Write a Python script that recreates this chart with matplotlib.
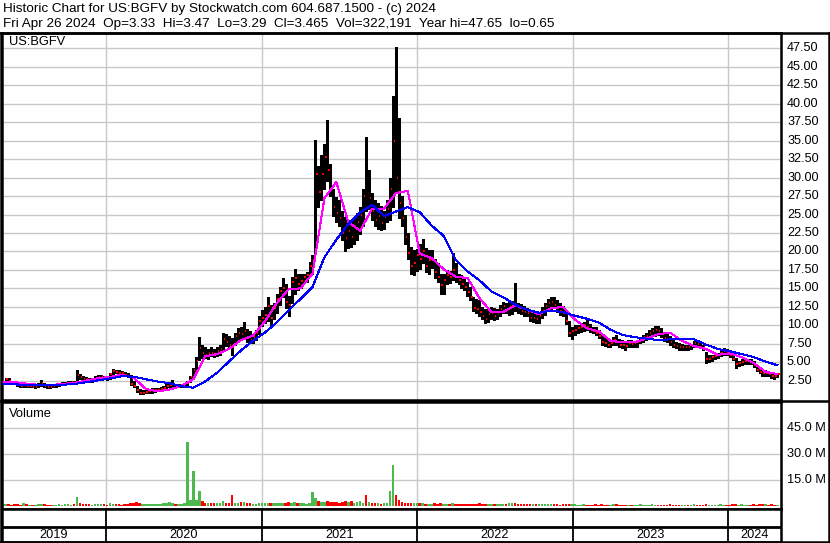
import pandas as pd
import matplotlib
matplotlib.use("Agg")
import matplotlib.pyplot as plt
import matplotlib.dates as mdates
import matplotlib.transforms as mtrans

plt.rcParams['font.family'] = ['Liberation Sans', 'DejaVu Sans']

# weekly bars, Fridays, May 2019 -> Apr 26 2024
weeks = pd.date_range('2019-05-03', '2024-04-26', freq='W-FRI')

high = [2.5, 2.9, 2.9, 2.5, 2.4, 2.2, 2.2, 2.1, 2.1, 2.1, 2.0, 2.0, 2.2,
        2.6, 2.2, 2.0, 2.0, 2.0, 2.1, 2.2, 2.3, 2.3, 2.4, 2.4, 2.4, 3.95,
        3.4, 3.2, 3.0, 2.9, 2.9, 3.2, 3.3, 3.3, 3.2, 3.1, 3.6, 4.05, 4.0,
        3.9, 3.8, 3.7, 3.6, 3.3, 2.4, 1.8, 1.4, 1.2, 1.3, 1.4, 1.5, 1.5,
        1.5, 1.6, 1.8, 2.0, 2.2, 2.6, 2.1, 2.1, 2.1, 2.2, 2.4, 3.2, 4.2,
        5.7, 8.46, 7.4, 7.0, 6.8, 7.0, 6.8, 7.0, 7.3, 8.9, 8.8, 8.6, 8.3,
        9.0, 9.6, 9.8, 10.5, 9.5, 9.2, 8.8, 9.4, 11.2, 12.1, 12.5, 13.9, 12.8,
        13.0, 14.2, 15.2, 16.4, 15.6, 14.0, 16.5, 17.6, 17.0, 16.9, 17.0, 17.2, 18.6,
        19.5, 35.1, 31.5, 33.0, 34.5, 37.8, 31.8, 28.5, 27.4, 27.0, 25.5, 24.7, 24.3,
        24.0, 24.5, 25.2, 26.0, 28.5, 35.5, 31.0, 27.9, 27.0, 26.5, 26.1, 25.5, 27.0,
        30.0, 41.0, 47.65, 38.0, 27.5, 25.0, 22.5, 20.6, 20.2, 20.3, 21.0, 21.7, 20.5,
        20.2, 20.2, 19.0, 18.5, 17.0, 17.0, 17.5, 17.4, 19.8, 18.5, 17.0, 16.8, 16.6,
        15.8, 15.2, 13.9, 13.6, 13.4, 12.5, 12.2, 12.4, 12.5, 12.3, 12.2, 12.8, 13.2,
        13.0, 13.2, 13.3, 15.7, 13.0, 12.9, 12.6, 12.4, 12.1, 11.8, 11.6, 11.8, 12.5,
        13.0, 13.6, 13.9, 13.8, 13.4, 13.0, 12.6, 12.1, 10.6, 9.8, 10.0, 10.0, 10.3,
        10.5, 10.9, 10.2, 9.8, 9.8, 9.4, 8.7, 8.4, 8.0, 8.0, 8.4, 8.7, 8.2,
        8.0, 7.8, 8.0, 8.0, 7.9, 8.0, 8.4, 8.7, 9.0, 9.4, 9.6, 9.9, 9.9,
        9.6, 9.1, 8.8, 8.5, 8.2, 7.8, 7.6, 7.5, 7.4, 7.4, 7.5, 7.9, 8.0,
        7.6, 7.4, 6.4, 6.0, 6.0, 6.1, 6.3, 6.6, 6.9, 6.8, 6.6, 6.0, 5.6,
        5.2, 5.4, 5.5, 5.5, 5.4, 5.2, 4.6, 4.2, 3.9, 3.9, 3.8, 3.6, 3.5,
        3.6]

low = [2.1, 2.2, 2.3, 2.1, 2.0, 1.8, 1.7, 1.7, 1.7, 1.6, 1.6, 1.5, 1.6,
       1.8, 1.6, 1.5, 1.5, 1.6, 1.7, 1.8, 1.9, 1.9, 2.0, 2.0, 2.0, 2.2,
       2.7, 2.6, 2.5, 2.3, 2.3, 2.6, 2.7, 2.8, 2.7, 2.6, 2.8, 3.4, 3.5,
       3.4, 3.3, 3.1, 3.0, 1.9, 1.6, 1.0, 0.65, 0.7, 0.8, 0.9, 0.9, 1.0,
       1.1, 1.1, 1.3, 1.4, 1.6, 1.7, 1.6, 1.6, 1.6, 1.7, 1.9, 2.3, 3.0,
       3.8, 5.3, 5.6, 5.6, 5.5, 5.8, 5.7, 5.9, 6.0, 6.6, 7.2, 6.9, 6.0,
       7.3, 8.0, 8.2, 8.4, 7.8, 7.6, 7.6, 8.0, 8.8, 9.9, 10.3, 10.6, 10.0,
       10.8, 11.6, 12.8, 13.9, 12.4, 11.2, 13.0, 14.3, 14.8, 15.0, 15.7, 15.8, 16.8,
       17.0, 19.7, 26.0, 27.0, 28.5, 29.5, 27.5, 24.8, 24.0, 23.4, 21.5, 20.0, 20.4,
       20.6, 21.0, 21.5, 22.3, 23.5, 25.5, 25.8, 24.3, 23.4, 23.0, 22.9, 23.0, 24.0,
       24.3, 26.0, 28.0, 24.5, 23.4, 21.0, 19.0, 17.0, 16.8, 17.4, 17.6, 18.5, 17.2,
       17.0, 17.8, 16.4, 15.8, 14.3, 14.2, 15.6, 15.7, 16.2, 15.8, 15.6, 15.0, 14.8,
       14.0, 13.4, 12.0, 11.6, 11.2, 10.8, 10.3, 10.5, 10.8, 10.7, 10.9, 11.2, 11.6,
       11.6, 11.4, 11.5, 12.0, 11.6, 11.5, 11.2, 11.2, 10.6, 10.4, 10.3, 10.3, 11.0,
       11.4, 12.0, 12.1, 12.3, 11.8, 11.4, 11.2, 10.2, 8.6, 8.2, 8.7, 8.9, 9.1,
       9.2, 9.3, 9.1, 8.9, 8.7, 8.3, 7.4, 7.2, 7.1, 7.1, 7.3, 7.4, 7.0,
       6.9, 6.7, 7.0, 7.1, 7.1, 7.1, 7.6, 7.8, 8.0, 8.1, 8.5, 8.6, 8.7,
       8.4, 7.9, 7.8, 7.4, 7.1, 6.9, 6.7, 6.7, 6.7, 6.7, 6.8, 7.0, 7.1,
       6.9, 6.7, 4.9, 5.1, 5.2, 5.4, 5.6, 5.8, 6.0, 6.0, 5.7, 5.3, 4.2,
       4.5, 4.6, 4.7, 4.8, 4.7, 4.4, 3.8, 3.5, 3.2, 3.1, 3.1, 2.9, 2.8,
       3.0]

close = [2.3, 2.7, 2.5, 2.2, 2.1, 1.9, 1.8, 1.9, 1.8, 1.8, 1.7, 1.7, 1.9,
         2.2, 1.8, 1.7, 1.6, 1.8, 1.9, 2.0, 2.1, 2.2, 2.2, 2.3, 2.2, 3.3,
         3.0, 2.8, 2.7, 2.6, 2.7, 2.9, 3.0, 3.1, 3.0, 2.9, 3.4, 3.8, 3.7,
         3.6, 3.5, 3.3, 3.2, 2.1, 1.8, 1.2, 0.8, 0.9, 1.0, 1.1, 1.2, 1.3,
         1.3, 1.4, 1.5, 1.8, 1.9, 2.0, 1.8, 1.8, 1.9, 2.0, 2.2, 3.0, 3.9,
         5.2, 6.9, 6.2, 6.0, 6.3, 6.2, 6.0, 6.5, 6.8, 8.2, 7.8, 7.4, 7.0,
         8.6, 9.0, 8.8, 9.2, 8.3, 8.0, 8.4, 9.0, 10.6, 11.0, 11.4, 12.6, 11.0,
         12.3, 13.5, 14.6, 15.0, 13.2, 12.8, 15.8, 16.4, 15.6, 16.0, 16.6, 16.8, 18.0,
         18.9, 30.5, 28.0, 30.5, 32.8, 31.0, 28.5, 26.0, 25.2, 24.5, 22.5, 21.8, 22.8,
         22.0, 23.5, 24.0, 25.0, 27.5, 26.0, 27.2, 25.5, 24.2, 24.8, 23.8, 24.6, 25.8,
         28.5, 35.0, 30.0, 26.5, 24.5, 22.0, 19.8, 18.0, 18.5, 19.5, 19.0, 20.0, 18.0,
         18.8, 19.0, 17.2, 16.5, 15.5, 16.2, 16.8, 16.5, 17.5, 16.6, 16.2, 15.6, 15.2,
         14.5, 13.8, 12.4, 12.2, 11.8, 11.2, 10.8, 11.5, 11.6, 11.2, 11.6, 12.2, 12.6,
         12.2, 12.5, 12.8, 12.6, 12.4, 12.0, 11.8, 11.6, 11.0, 11.0, 10.8, 11.3, 12.0,
         12.6, 13.0, 13.2, 12.8, 12.4, 12.0, 11.6, 10.6, 9.0, 9.2, 9.4, 9.6, 9.8,
         10.0, 9.8, 9.5, 9.2, 9.0, 8.6, 7.8, 7.6, 7.4, 7.6, 8.0, 7.8, 7.4,
         7.3, 7.2, 7.6, 7.5, 7.6, 7.8, 8.2, 8.4, 8.6, 9.0, 9.2, 9.4, 9.2,
         8.8, 8.3, 8.1, 7.8, 7.4, 7.2, 7.0, 7.0, 7.1, 7.0, 7.2, 7.6, 7.5,
         7.1, 7.0, 5.5, 5.5, 5.7, 5.8, 6.0, 6.3, 6.5, 6.4, 6.0, 5.5, 4.8,
         4.9, 5.1, 5.2, 5.2, 5.0, 4.6, 4.0, 3.7, 3.5, 3.6, 3.4, 3.2, 3.1,
         3.465]

# biggest daily volume of each week, millions
volume = [1.0, 0.9, 0.7, 0.6, 0.8, 0.7, 0.6, 1.6, 0.8, 0.6, 0.5, 0.6, 0.8,
          1.0, 0.7, 0.6, 0.5, 0.6, 0.6, 0.7, 0.6, 0.8, 0.7, 0.6, 0.7, 4.8,
          1.5, 0.9, 0.8, 0.7, 0.6, 0.8, 0.9, 0.8, 0.7, 0.6, 1.2, 1.0, 0.8,
          0.7, 0.6, 0.7, 0.8, 1.2, 1.4, 2.1, 1.3, 1.0, 0.9, 1.0, 0.9, 0.8,
          0.9, 1.1, 1.6, 1.2, 2.0, 1.4, 1.0, 0.9, 1.0, 1.2, 37.2, 3.0, 19.9,
          3.5, 8.3, 2.4, 1.5, 1.3, 1.4, 1.2, 1.6, 1.3, 2.9, 1.5, 1.3, 6.4,
          1.6, 1.4, 2.3, 1.8, 1.5, 1.2, 1.0, 1.1, 1.3, 1.5, 1.2, 1.6, 1.4,
          1.2, 1.3, 1.6, 1.5, 1.4, 1.8, 1.5, 2.0, 1.4, 1.2, 1.3, 1.1, 1.5,
          7.7, 4.6, 2.5, 2.0, 2.2, 2.6, 2.3, 1.8, 2.0, 1.6, 2.2, 2.4, 1.8,
          2.9, 1.6, 1.8, 2.4, 1.5, 6.4, 2.0, 1.3, 1.2, 1.5, 1.1, 1.4, 1.6,
          8.3, 23.7, 6.0, 3.5, 1.8, 1.5, 1.3, 1.4, 1.2, 1.5, 1.6, 1.2, 1.0,
          1.1, 0.9, 1.2, 1.0, 1.4, 0.9, 1.0, 1.1, 1.3, 1.0, 0.9, 0.8, 1.0,
          0.9, 1.1, 1.0, 0.8, 1.2, 0.9, 1.0, 0.8, 0.9, 1.0, 0.8, 0.7, 0.9,
          0.8, 1.2, 1.3, 1.5, 0.9, 0.8, 0.7, 0.8, 0.9, 0.7, 0.8, 0.7, 0.8,
          0.9, 0.8, 1.0, 0.8, 0.7, 0.6, 0.8, 0.9, 1.1, 0.8, 0.7, 0.6, 0.6,
          0.7, 0.6, 0.5, 0.6, 0.7, 0.6, 0.8, 0.6, 0.5, 0.6, 0.7, 1.1, 0.6,
          0.6, 0.5, 0.6, 0.6, 0.5, 0.6, 0.7, 0.6, 0.5, 0.6, 0.7, 0.6, 0.6,
          0.5, 0.6, 0.5, 0.7, 0.6, 0.5, 0.5, 0.6, 0.6, 0.5, 0.6, 0.7, 0.6,
          0.5, 0.6, 0.9, 0.6, 0.5, 0.6, 0.5, 0.7, 0.6, 0.5, 0.6, 0.7, 0.9,
          0.6, 0.7, 0.6, 0.5, 0.6, 0.7, 0.6, 0.8, 1.1, 0.7, 0.6, 0.7, 0.6,
          0.5]

# moving averages read every 4th week
ma_fast = [2.3, 2.3, 2.1, 1.95, 1.9, 2.05, 2.2, 2.5, 2.85, 3.0,
           3.3, 2.9, 1.4, 1.05, 1.3, 1.8, 2.7, 5.8, 6.1, 6.8,
           8.0, 8.6, 10.5, 13.0, 14.9, 15.0, 17.0, 27.2, 29.4, 24.0,
           22.8, 25.8, 25.8, 27.9, 28.2, 19.7, 19.1, 17.6, 16.6, 16.4,
           13.7, 11.8, 11.8, 12.7, 12.1, 11.5, 12.3, 12.5, 10.8, 9.6,
           9.2, 7.9, 7.7, 7.7, 8.2, 8.8, 9.0, 7.9, 7.2, 6.8,
           6.0, 6.2, 5.7, 4.9, 3.7, 3.4]
ma_slow = [2.0, 2.0, 1.95, 1.9, 1.9, 1.95, 2.05, 2.3, 2.55, 2.8,
           3.1, 3.05, 2.7, 2.4, 2.15, 1.75, 1.55, 2.4, 3.6, 5.1,
           6.6, 7.9, 9.0, 10.4, 12.0, 13.6, 15.2, 19.2, 21.6, 23.7,
           25.3, 26.3, 24.8, 25.4, 26.0, 25.3, 23.5, 22.1, 18.9, 17.3,
           16.1, 14.6, 13.8, 12.8, 12.1, 11.7, 12.0, 11.8, 11.3, 10.9,
           10.4, 9.4, 8.7, 8.4, 8.2, 8.0, 8.1, 8.1, 8.1, 7.4,
           6.8, 6.5, 6.1, 5.7, 5.1, 4.6]

price_ticks = [2.5, 5, 7.5, 10, 12.5, 15, 17.5, 20, 22.5, 25, 27.5, 30,
               32.5, 35, 37.5, 40, 42.5, 45, 47.5]
vol_ticks = [15, 30, 45]
years = [2019, 2020, 2021, 2022, 2023, 2024]

title1 = "Historic Chart for US:BGFV by Stockwatch.com 604.687.1500 - (c) 2024"
title2 = ("Fri Apr 26 2024  Op=3.33  Hi=3.47  Lo=3.29  Cl=3.465  "
          "Vol=322,191  Year hi=47.65  lo=0.65")

W, H = 830, 543


def box(x0, y0, x1, y1):
    # pixel box (top-left origin) -> figure fraction
    return [x0 / W, 1 - y1 / H, (x1 - x0) / W, (y1 - y0) / H]


def hline(y, x0=0, x1=W, lw=1.8):
    fig.add_artist(plt.Line2D([x0 / W, x1 / W], [1 - y / H, 1 - y / H],
                              color='black', lw=lw, transform=fig.transFigure))


def vline(x, y0, y1, lw=1.8):
    fig.add_artist(plt.Line2D([x / W, x / W], [1 - y0 / H, 1 - y1 / H],
                              color='black', lw=lw, transform=fig.transFigure))


xs = mdates.date2num(weeks.to_pydatetime())
xlo = mdates.date2num(pd.Timestamp('2019-05-01 16:00'))
xhi = mdates.date2num(pd.Timestamp('2024-05-04 12:00'))
bounds = [mdates.date2num(pd.Timestamp(f'{y}-01-01')) for y in years[1:]]

fig = plt.figure(figsize=(W / 100, H / 100), dpi=100)

ax_p = fig.add_axes(box(2, 33, 781, 400))
ax_v = fig.add_axes(box(2, 402, 781, 509))
ax_d = fig.add_axes(box(2, 509, 781, 542))

grid = '#c8c8c8'
for ax in (ax_p, ax_v, ax_d):
    ax.set_xlim(xlo, xhi)
    ax.set_xticks([])
    ax.set_yticks([])
    for s in ax.spines.values():
        s.set_linewidth(1.8)

for b in bounds:
    ax_p.axvline(b, color=grid, lw=1, zorder=0)
    ax_v.axvline(b, color=grid, lw=1, zorder=0)
    ax_d.axvline(b, color='black', lw=1.3)

# price panel
ax_p.set_ylim(-0.11, 49.57)
for t in price_ticks:
    ax_p.axhline(t, color=grid, lw=1, zorder=0)
ax_p.vlines(xs, low, high, colors='black', lw=2.1, zorder=2,
            antialiased=False)
ax_p.hlines(close, xs + 1.5, xs + 5, colors='red', lw=1.4, zorder=3,
            antialiased=False)
ax_p.plot(xs[::4], ma_fast, color='#ff00ff', lw=0.75, zorder=4,
          antialiased=False)
ax_p.plot(xs[::4], ma_slow, color='#0000ff', lw=0.75, zorder=4,
          antialiased=False)
ax_p.text(7 / 779, 1 - 9 / 367, 'US:BGFV', transform=ax_p.transAxes,
          fontsize=9.3, va='center', ha='left')

tr_p = mtrans.blended_transform_factory(fig.transFigure, ax_p.transData)
for t in price_ticks:
    fig.text(787 / W, t, f'{t:.2f}', transform=tr_p, fontsize=9.1,
             va='center', ha='left')

# volume panel
ax_v.set_ylim(-2.0, 60.2)
for t in vol_ticks:
    ax_v.axhline(t, color=grid, lw=1, zorder=0)
colors = ['#4db84d'] + ['#ff0000' if close[i] < close[i - 1] else '#4db84d'
                        for i in range(1, len(close))]
ax_v.bar(xs, volume, width=6, color=colors, zorder=2, antialiased=False)
ax_v.text(7 / 779, 1 - 12 / 107, 'Volume', transform=ax_v.transAxes,
          fontsize=9.3, va='center', ha='left')
tr_v = mtrans.blended_transform_factory(fig.transFigure, ax_v.transData)
for t in vol_ticks:
    fig.text(787 / W, t, f'{t:.1f} M', transform=tr_v, fontsize=9.2,
             va='center', ha='left')

# date strip
ax_d.set_ylim(0, 1)
ax_d.axhline(15 / 33, color='black', lw=2)
edges = [xlo] + bounds + [xhi]
for y, a, b in zip(years, edges[:-1], edges[1:]):
    ax_d.text((a + b) / 2, 7 / 33, str(y), ha='center', va='center',
              fontsize=9.2)

# header and outer frame
fig.text(3 / W, 1 - 9 / H, title1, fontsize=9.7, va='center', ha='left')
fig.text(3 / W, 1 - 24 / H, title2, fontsize=9.7, va='center', ha='left')
hline(33)
hline(401)
hline(541.5)
vline(1, 33, 543)
vline(829, 33, 543)

fig.savefig('out.png', dpi=100)
